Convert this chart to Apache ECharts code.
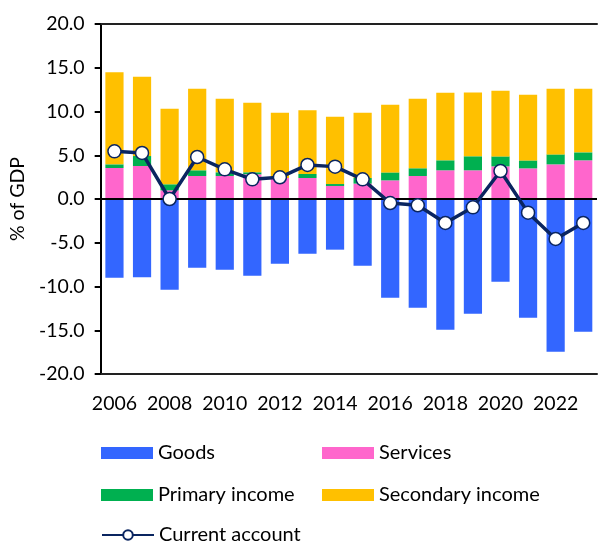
<!DOCTYPE html>
<html>
<head>
<meta charset="utf-8">
<script src="https://cdn.jsdelivr.net/npm/echarts@6/dist/echarts.min.js"></script>
<style>html,body{margin:0;padding:0;background:#fff}#c{width:598px;height:541px}</style>
</head>
<body>
<div id="c"></div>
<script>
var years = ['2006','2007','2008','2009','2010','2011','2012','2013','2014','2015','2016','2017','2018','2019','2020','2021','2022','2023'];
var goods = [-9.0, -8.95, -10.36, -7.85, -8.08, -8.76, -7.39, -6.25, -5.79, -7.62, -11.28, -12.42, -14.93, -13.1, -9.45, -13.56, -17.45, -15.16];
var services = [3.54, 3.77, 0.99, 2.63, 2.63, 2.82, 2.4, 2.4, 1.49, 1.76, 2.13, 2.63, 3.28, 3.28, 3.73, 3.5, 3.96, 4.42];
var primaryIncome = [0.42, 1.14, 0.69, 0.65, 0.42, 0.23, 0.0, 0.46, 0.22, 0.64, 0.91, 0.88, 1.14, 1.6, 1.14, 0.91, 1.14, 0.91];
var secondaryIncome = [10.52, 9.07, 8.64, 9.33, 8.42, 7.96, 7.47, 7.27, 7.7, 7.47, 7.73, 7.96, 7.73, 7.28, 7.5, 7.5, 7.51, 7.28];
var currentAccount = [5.45, 5.26, 0.0, 4.8, 3.39, 2.25, 2.48, 3.89, 3.7, 2.25, -0.46, -0.72, -2.74, -0.95, 3.2, -1.56, -4.57, -2.74];

var FONT = 'Lato';
var chart = echarts.init(document.getElementById('c'), null, {renderer: 'canvas'});
function leg(name, left, top, icon) {
  var l = {
    data: [name], left: left, top: top, orient: 'horizontal', padding: 0,
    itemWidth: 52, itemHeight: 12, itemGap: 0, selectedMode: false,
    textStyle: {fontFamily: FONT, fontSize: 20, color: '#000', padding: [0,0,0,0]}
  };
  if (icon) l.icon = icon;
  return l;
}
var option = {
  animation: false,
  textStyle: {fontFamily: FONT},
  grid: {left: 98, right: 1, top: 24, bottom: 167, containLabel: false},
  legend: [
    leg('Goods', 101, 443, 'rect'),
    leg('Services', 322, 443, 'rect'),
    leg('Primary income', 101, 485, 'rect'),
    leg('Secondary income', 322, 485, 'rect'),
    leg('Current account', 101, 525)
  ],
  xAxis: [{
    type: 'category', data: years, position: 'bottom',
    axisLine: {onZero: false, lineStyle: {color: '#222', width: 2}},
    axisTick: {show: false},
    axisLabel: {interval: 1, color: '#000', fontSize: 19.5, fontFamily: FONT, margin: 20}
  }, {
    type: 'category', data: years, position: 'top',
    axisLine: {onZero: false, lineStyle: {color: '#222', width: 2}},
    axisTick: {show: false}, axisLabel: {show: false}
  }],
  yAxis: {
    type: 'value', min: -20, max: 20, interval: 5,
    name: '% of GDP', nameLocation: 'middle', nameGap: 70, nameRotate: 90,
    nameTextStyle: {fontFamily: FONT, fontSize: 19.5, color: '#000'},
    axisLine: {show: true, lineStyle: {color: '#000', width: 2}},
    axisTick: {show: true, inside: false, length: 6, lineStyle: {color: '#000', width: 2}},
    axisLabel: {color: '#000', fontSize: 19.5, fontFamily: FONT, margin: 16,
      formatter: function (v) { return v.toFixed(1); }},
    splitLine: {show: false}
  },
  series: [
    {name: 'Goods', type: 'bar', stack: 'ca', data: goods, barWidth: '66%',
     itemStyle: {color: '#3366FF'},
     markLine: {silent: true, symbol: 'none', label: {show: false},
       lineStyle: {color: '#000', width: 2, type: 'solid'}, data: [{yAxis: 0}]}},
    {name: 'Services', type: 'bar', stack: 'ca', data: services, itemStyle: {color: '#FF66CC'}},
    {name: 'Primary income', type: 'bar', stack: 'ca', data: primaryIncome, itemStyle: {color: '#00B050'}},
    {name: 'Secondary income', type: 'bar', stack: 'ca', data: secondaryIncome, itemStyle: {color: '#FFC000'}},
    {name: 'Current account', type: 'line', data: currentAccount, z: 10,
     symbol: 'circle', symbolSize: 13,
     lineStyle: {color: '#0A2560', width: 3.5},
     itemStyle: {color: '#fff', borderColor: '#0A2560', borderWidth: 1.5}}
  ]
};
chart.setOption(option);
</script>
</body>
</html>
